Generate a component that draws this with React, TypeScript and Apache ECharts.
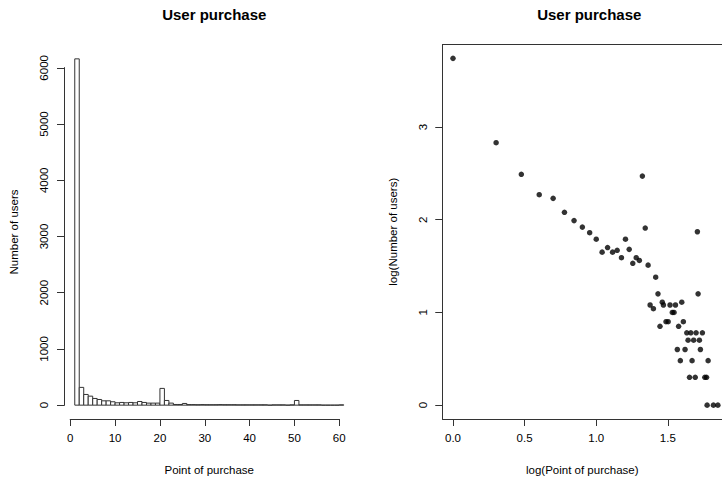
import React, { useEffect, useRef } from "react";
import * as echarts from "echarts";

// Histogram: bins [k, k+1] (lower edges), counts
const histBinLower = [
  1, 2, 3, 4, 5, 6, 7, 8, 9, 10, 11, 12, 13, 14, 15, 16, 17, 18, 19, 20,
  21, 22, 23, 24, 25, 26, 27, 28, 29, 30, 31, 32, 33, 34, 35, 36, 37, 38, 39, 40,
  41, 42, 43, 44, 45, 46, 47, 48, 49, 50, 51, 52, 53, 54, 55, 56, 57, 58, 59, 60,
];
const histBinWidth = 1;
const histCounts = [
  6160, 316, 190, 160, 119, 101, 77, 77, 60, 42, 48, 42, 48, 42, 65, 48, 36, 36, 36, 298,
  83, 36, 12, 12, 30, 10, 10, 8, 10, 8, 8, 8, 10, 8, 8, 8, 6, 6, 6, 6,
  6, 6, 6, 0, 5, 5, 5, 0, 5, 83, 5, 5, 5, 5, 5, 0, 0, 0, 0, 5,
];

// Scatter: log10(point of purchase) vs log10(number of users)
const logPoint = [
  0.0, 0.301, 0.477, 0.602, 0.699, 0.778, 0.845, 0.903, 0.954, 1.0,
  1.041, 1.079, 1.114, 1.146, 1.176, 1.204, 1.23, 1.255, 1.279, 1.301,
  1.322, 1.342, 1.362, 1.376, 1.399, 1.415, 1.431, 1.445, 1.461, 1.469,
  1.487, 1.502, 1.515, 1.531, 1.543, 1.553, 1.566, 1.575, 1.587, 1.597,
  1.608, 1.62, 1.632, 1.641, 1.651, 1.66, 1.669, 1.68, 1.691, 1.697,
  1.706, 1.711, 1.72, 1.727, 1.741, 1.758, 1.77, 1.774, 1.781, 1.818,
  1.849,
];
const logUsers = [
  3.74, 2.83, 2.49, 2.27, 2.23, 2.08, 1.99, 1.92, 1.86, 1.79,
  1.65, 1.7, 1.65, 1.67, 1.59, 1.79, 1.68, 1.53, 1.59, 1.56,
  2.47, 1.91, 1.51, 1.08, 1.04, 1.38, 1.2, 0.85, 1.11, 1.08,
  0.9, 0.9, 1.08, 1.0, 1.0, 1.08, 0.6, 0.85, 0.48, 1.11,
  0.9, 0.6, 0.78, 0.7, 0.3, 0.78, 0.48, 0.7, 0.3, 0.78,
  1.87, 1.2, 0.7, 0.6, 0.78, 0.3, 0.3, 0.0, 0.48, 0.0,
  0.0,
];

const FONT = "'Liberation Sans', Arial, sans-serif";
const INK = "#000";
const LINE = "#333";
const H = 483;

type Region = { left: number; top: number; width: number; height: number };

function sub(r: Region, xr: number[], yr: number[], x0: number, x1: number, y0: number, y1: number): Region {
  const sx = r.width / (xr[1] - xr[0]);
  const sy = r.height / (yr[1] - yr[0]);
  return {
    left: r.left + (x0 - xr[0]) * sx,
    width: (x1 - x0) * sx,
    top: r.top + (yr[1] - y1) * sy,
    height: (y1 - y0) * sy,
  };
}

export default function App() {
  const ref = useRef<HTMLDivElement>(null);
  useEffect(() => {
    if (!ref.current) return;
    const chart = echarts.init(ref.current, undefined, { renderer: "svg" });

    const maxCount = Math.max(...histCounts);
    const histLo = histBinLower[0];
    const histHi = histBinLower[histBinLower.length - 1] + histBinWidth;
    const lx = [histLo - 0.04 * (histHi - histLo), histHi + 0.04 * (histHi - histLo)];
    const ly = [-0.04 * maxCount, 1.04 * maxCount];
    const L: Region = { left: 64, top: 45, width: 290.5, height: 374 };

    const pyMin = Math.min(...logUsers), pyMax = Math.max(...logUsers);
    const ry = [pyMin - 0.04 * (pyMax - pyMin), pyMax + 0.04 * (pyMax - pyMin)];
    // plot box spans -0.0733 .. 1.9058 over 283.5 px; the canvas cuts it at 722
    const R: Region = { left: 442.5, top: 44.5, width: 279.5, height: 374.5 };
    const rx = [-0.0733, -0.0733 + (1.9791 * 279.5) / 283.5];

    const gLx = sub(L, lx, ly, 0, 60, ly[0], ly[1]);
    const gLy = sub(L, lx, ly, lx[0], lx[1], 0, 6000);
    const gRx = sub(R, rx, ry, 0, 1.5, ry[0], ry[1]);
    const gRy = sub(R, rx, ry, rx[0], rx[1], 0, 3);

    const labelStyle = () => ({ color: INK, fontSize: 11.5, fontFamily: FONT });
    const nameStyle = () => ({ color: INK, fontSize: 11.5, fontFamily: FONT });
    const ls = () => ({ color: LINE, width: 1 });
    const plain = (v: number) => String(v);
    const fix1 = (v: number) => v.toFixed(1);
    const gridOf = (r: Region) => ({ left: r.left, top: r.top, width: r.width, height: r.height, outerBoundsMode: "none" });

    // Line carriers: grids larger than the line they carry; a hidden companion
    // axis (1 unit = 1 px) puts its zero where the line must lie (onZero).
    const below = (r: Region, bottom: number) => ({ left: r.left, width: r.width, top: r.top, height: H - r.top, zeroRange: [-(H - bottom), bottom - r.top] });
    const leftOf = (r: Region, leftX: number, right: number) => ({ left: 0, width: right, top: r.top, height: r.height, zeroRange: [-leftX, right - leftX] });

    const gLxC = below({ ...gLx, top: L.top }, L.top + L.height);
    const gLyC = leftOf(gLy, L.left, L.left + L.width);
    const gRxC = below({ ...gRx, top: R.top }, R.top + R.height);
    const gRyC = leftOf(gRy, R.left, R.left + R.width);
    const boxBottom = below(R, R.top + R.height);
    const boxLeft = leftOf(R, R.left, R.left + R.width);
    const boxTop = { left: R.left, width: R.width, top: 0, height: R.top + R.height, zeroRange: [-R.height, R.top] };

    const LOW = [0, 1];
    const hidden = (gi: number, r: number[]) => ({
      type: "value", gridIndex: gi, min: r[0], max: r[1], show: false,
    });
    const frame = (gi: number, line: boolean, name?: string, gap?: number) => ({
      type: "value", gridIndex: gi, min: LOW[0], max: LOW[1],
      axisLine: { show: line, lineStyle: ls() },
      axisTick: { show: false }, axisLabel: { show: false }, splitLine: { show: false },
      name: name || "", nameLocation: "middle", nameGap: gap || 0, nameTextStyle: nameStyle(),
    });
    // axis line + ticks only (on carrier grids)
    const lineX = (gi: number, min: number, max: number, interval: number) => ({
      type: "value", gridIndex: gi, min, max, interval,
      axisLine: { show: true, lineStyle: ls() },
      axisTick: { show: true, length: 7, lineStyle: ls() },
      axisLabel: { show: false },
      splitLine: { show: false },
    });
    const lineY = (gi: number, min: number, max: number, interval: number) => ({
      type: "value", gridIndex: gi, min, max, interval,
      axisLine: { show: true, lineStyle: ls() },
      axisTick: { show: true, length: 7, lineStyle: ls() },
      axisLabel: { show: false },
      splitLine: { show: false },
    });
    // tick labels (on grids whose edge is the axis line)
    const textX = (gi: number, min: number, max: number, interval: number, fmt: (v: number) => string) => ({
      type: "value", gridIndex: gi, min, max, interval,
      axisLine: { show: true, lineStyle: ls() },
      axisTick: { show: true, length: 7, lineStyle: ls() },
      axisLabel: { ...labelStyle(), margin: 13, formatter: fmt },
      splitLine: { show: false },
    });
    const textY = (gi: number, min: number, max: number, interval: number) => ({
      type: "value", gridIndex: gi, min, max, interval,
      axisLine: { show: true, lineStyle: ls() },
      axisTick: { show: true, length: 7, lineStyle: ls() },
      axisLabel: { ...labelStyle(), margin: 14, rotate: 90, formatter: plain },
      splitLine: { show: false },
    });
    const titleOf = (cx: number) => ({
      text: "User purchase", left: cx, top: 2, textAlign: "center",
      textStyle: { fontSize: 15, fontWeight: "bold", fontFamily: FONT, color: INK },
    });

    const option: any = {
      animation: false,
      backgroundColor: "#fff",
      title: [titleOf(L.left + L.width / 2), titleOf(R.left + 283.5 / 2)],
      grid: [
        gridOf(L),         // 0 histogram data
        gridOf(gLxC),      // 1 histogram x axis line (0..60)
        gridOf(gLyC),      // 2 histogram y axis line (0..6000)
        gridOf(L),         // 3 histogram axis titles
        gridOf(R),         // 4 scatter data
        gridOf(gRxC),      // 5 scatter x axis line (0..1.5)
        gridOf(gRyC),      // 6 scatter y axis line (0..3)
        gridOf(boxBottom), // 7 box bottom
        gridOf(boxLeft),   // 8 box left
        gridOf(boxTop),    // 9 box top
        gridOf(gLx),       // 10 histogram x tick labels
        gridOf(gLy),       // 11 histogram y tick labels
        gridOf(gRx),       // 12 scatter x tick labels
        gridOf(gRy),       // 13 scatter y tick labels
        gridOf(R),         // 14 scatter axis titles
      ],
      xAxis: [
        hidden(0, lx),
        lineX(1, 0, 60, 10),
        hidden(2, gLyC.zeroRange),
        frame(3, false, "Point of purchase", 45),
        hidden(4, rx),
        lineX(5, 0, 1.5, 0.5),
        hidden(6, gRyC.zeroRange),
        frame(7, true),
        hidden(8, boxLeft.zeroRange),
        frame(9, true),
        textX(10, 0, 60, 10, plain),
        hidden(11, LOW),
        textX(12, 0, 1.5, 0.5, fix1),
        hidden(13, LOW),
        frame(14, false, "log(Point of purchase)", 45),
      ],
      yAxis: [
        hidden(0, ly),
        hidden(1, gLxC.zeroRange),
        lineY(2, 0, 6000, 1000),
        frame(3, false, "Number of users", 44),
        hidden(4, ry),
        hidden(5, gRxC.zeroRange),
        lineY(6, 0, 3, 1),
        hidden(7, boxBottom.zeroRange),
        frame(8, true),
        hidden(9, boxTop.zeroRange),
        hidden(10, LOW),
        textY(11, 0, 6000, 1000),
        hidden(12, LOW),
        textY(13, 0, 3, 1),
        frame(14, false, "log(Number of users)", 44),
      ],
      series: [
        {
          type: "custom",
          xAxisIndex: 0,
          yAxisIndex: 0,
          coordinateSystem: "cartesian2d",
          data: histBinLower.map((b, i) => [b, b + histBinWidth, histCounts[i]]),
          encode: { x: [0, 1], y: 2 },
          renderItem: (_params: any, api: any) => {
            const a = api.coord([api.value(0), api.value(2)]);
            const b = api.coord([api.value(1), 0]);
            return {
              type: "rect",
              shape: { x: a[0], y: a[1], width: b[0] - a[0], height: b[1] - a[1] },
              style: { fill: "#fff", stroke: LINE, lineWidth: 1 },
            };
          },
        },
        {
          type: "scatter",
          xAxisIndex: 4,
          yAxisIndex: 4,
          symbol: "circle",
          symbolSize: 5.5,
          itemStyle: { color: "#000" },
          data: logPoint.map((x, i) => [x, logUsers[i]]),
        },
      ],
    };
    chart.setOption(option);
    return () => chart.dispose();
  }, []);
  return (
    <div
      ref={ref}
      style={{ position: "absolute", left: 0, top: 0, width: 722, height: 483, background: "#fff" }}
    />
  );
}
